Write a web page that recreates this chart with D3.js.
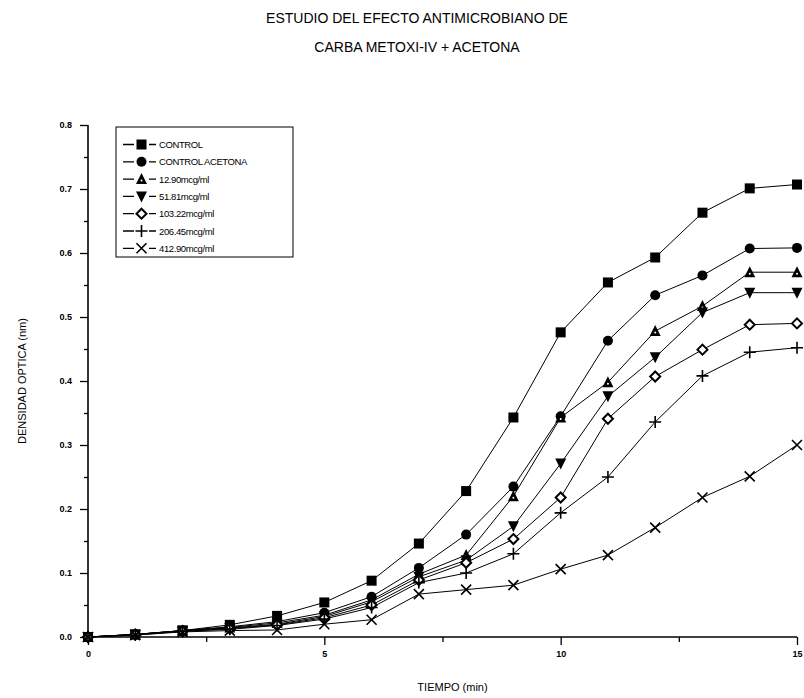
<!DOCTYPE html>
<html>
<head>
<meta charset="utf-8">
<script src="https://cdn.jsdelivr.net/npm/d3@7"></script>
<style>
  body { margin: 0; background: #fff; }
  text { font-family: "Liberation Sans", Arial, sans-serif; fill: #000; }
</style>
</head>
<body>
<div id="chart"></div>
<script>
const tiempo = [0, 1, 2, 3, 4, 5, 6, 7, 8, 9, 10, 11, 12, 13, 14, 15];

const control         = [0, 0.004, 0.010, 0.019, 0.033, 0.054, 0.088, 0.146, 0.228, 0.343, 0.476, 0.554, 0.593, 0.663, 0.701, 0.707];
const controlAcetona  = [0, 0.004, 0.010, 0.016, 0.024, 0.038, 0.063, 0.108, 0.160, 0.235, 0.345, 0.463, 0.534, 0.565, 0.607, 0.608];
const c1290           = [0, 0.004, 0.010, 0.015, 0.022, 0.034, 0.058, 0.098, 0.128, 0.220, 0.343, 0.398, 0.478, 0.517, 0.570, 0.570];
const c5181           = [0, 0.004, 0.010, 0.014, 0.020, 0.032, 0.055, 0.094, 0.120, 0.173, 0.271, 0.376, 0.437, 0.507, 0.538, 0.538];
const c10322          = [0, 0.004, 0.009, 0.013, 0.019, 0.030, 0.050, 0.089, 0.116, 0.153, 0.218, 0.341, 0.407, 0.449, 0.488, 0.490];
const c20645          = [0, 0.003, 0.009, 0.012, 0.018, 0.028, 0.046, 0.085, 0.100, 0.130, 0.194, 0.250, 0.336, 0.408, 0.445, 0.452];
const c41290          = [0, 0.003, 0.008, 0.010, 0.011, 0.020, 0.027, 0.067, 0.074, 0.081, 0.106, 0.128, 0.171, 0.218, 0.251, 0.300];

const seriesNames = ["CONTROL", "CONTROL ACETONA", "12.90mcg/ml", "51.81mcg/ml", "103.22mcg/ml", "206.45mcg/ml", "412.90mcg/ml"];
const seriesValues = [control, controlAcetona, c1290, c5181, c10322, c20645, c41290];
const markerTypes = ["square", "circle", "triUp", "triDown", "diamond", "plus", "cross"];

const xTicks = [0, 5, 10, 15];
const yTicks = [0, 0.1, 0.2, 0.3, 0.4, 0.5, 0.6, 0.7, 0.8];

const W = 804, H = 698;
const margin = {top: 125, right: 7, bottom: 61, left: 88};
const width = W - margin.left - margin.right,
      height = H - margin.top - margin.bottom;

const svg = d3.select("#chart").append("svg")
    .attr("width", W)
    .attr("height", H);

// title
svg.append("text")
    .attr("x", 417).attr("y", 23)
    .attr("text-anchor", "middle")
    .style("font-size", "14px")
    .text("ESTUDIO DEL EFECTO ANTIMICROBIANO DE");
svg.append("text")
    .attr("x", 417).attr("y", 52)
    .attr("text-anchor", "middle")
    .style("font-size", "14px")
    .text("CARBA METOXI-IV + ACETONA");

const g = svg.append("g")
    .attr("transform", `translate(${margin.left},${margin.top})`);

const x = d3.scaleLinear().domain([0, 15]).range([0, width]);
const y = d3.scaleLinear().domain([0, 0.8]).range([height, 0]);

// axes
const xAxis = g.append("g")
    .attr("transform", `translate(0,${height})`)
    .call(d3.axisBottom(x).tickValues(xTicks).tickSize(8).tickPadding(6).tickFormat(d3.format("d")));
g.append("g")
    .attr("transform", `translate(0,${height})`)
    .call(d3.axisBottom(x).tickValues([2.5, 7.5, 12.5]).tickSize(5).tickFormat(""))
    .select(".domain").remove();

const yAxis = g.append("g")
    .call(d3.axisLeft(y).tickValues(yTicks).tickSize(8).tickPadding(8).tickFormat(d3.format(".1f")));
g.append("g")
    .call(d3.axisLeft(y).tickValues(d3.range(0.05, 0.8, 0.1)).tickSize(4).tickFormat(""))
    .select(".domain").remove();

g.selectAll(".domain").attr("stroke-width", 1.6).attr("d", null);
xAxis.select(".domain").attr("d", `M0,0H${width}`);
yAxis.select(".domain").attr("d", `M0,${height}V0`);
g.selectAll(".tick line").attr("stroke-width", 1.3);
g.selectAll(".tick text").style("font-size", "9px").style("font-weight", "bold");

// axis labels
svg.append("text")
    .attr("x", margin.left + width / 2 + 10).attr("y", 691)
    .attr("text-anchor", "middle")
    .style("font-size", "11px")
    .text("TIEMPO (min)");
svg.append("text")
    .attr("transform", `translate(26,${margin.top + height / 2}) rotate(-90)`)
    .attr("text-anchor", "middle")
    .style("font-size", "11px")
    .text("DENSIDAD OPTICA (nm)");

// markers
function drawMarker(sel, type) {
  const s = 5;
  if (type === "square") {
    sel.append("rect").attr("x", -s).attr("y", -s).attr("width", 2 * s).attr("height", 2 * s).attr("fill", "#000");
  } else if (type === "circle") {
    sel.append("circle").attr("r", s).attr("fill", "#000");
  } else if (type === "triUp") {
    sel.append("path").attr("d", `M0,${-s - 1}L${s + 0.5},${s}L${-s - 0.5},${s}Z`)
      .attr("fill", "#000");
    sel.append("circle").attr("cx", 0).attr("cy", 1.5).attr("r", 1).attr("fill", "#fff");
  } else if (type === "triDown") {
    sel.append("path").attr("d", `M0,${s + 1}L${s + 0.5},${-s}L${-s - 0.5},${-s}Z`).attr("fill", "#000");
  } else if (type === "diamond") {
    sel.append("path").attr("d", `M0,${-s}L${s},0L0,${s}L${-s},0Z`)
      .attr("fill", "#fff").attr("stroke", "#000").attr("stroke-width", 2);
  } else if (type === "plus") {
    sel.append("path").attr("d", `M${-s - 1},0H${s + 1}M0,${-s - 1}V${s + 1}`)
      .attr("stroke", "#000").attr("stroke-width", 1.6);
  } else if (type === "cross") {
    sel.append("path").attr("d", `M${-s},${-s}L${s},${s}M${s},${-s}L${-s},${s}`)
      .attr("stroke", "#000").attr("stroke-width", 1.6);
  }
}

const line = d3.line()
    .x((d, i) => x(tiempo[i]))
    .y(d => y(d));

seriesValues.forEach((vals, k) => {
  g.append("path")
      .datum(vals)
      .attr("fill", "none")
      .attr("stroke", "#000")
      .attr("stroke-width", 1)
      .attr("d", line);
});

seriesValues.forEach((vals, k) => {
  g.selectAll(null)
      .data(vals)
      .join("g")
      .attr("transform", (d, i) => `translate(${x(tiempo[i])},${y(d)})`)
      .each(function() { drawMarker(d3.select(this), markerTypes[k]); });
});

// legend
const legend = svg.append("g").attr("transform", "translate(116,127)");
legend.append("rect")
    .attr("width", 177).attr("height", 130)
    .attr("fill", "#fff").attr("stroke", "#000").attr("stroke-width", 1);

seriesNames.forEach((name, k) => {
  const ly = 17.5 + k * 17.3;
  const row = legend.append("g").attr("transform", `translate(0,${ly})`);
  row.append("path").attr("d", "M7,0H18M33,0H40").attr("stroke", "#000").attr("stroke-width", 1.3);
  const m = row.append("g").attr("transform", "translate(25.5,0)");
  drawMarker(m, markerTypes[k]);
  row.append("text")
      .attr("x", 43).attr("y", 3.5)
      .style("font-size", "9.5px")
      .style("letter-spacing", "-0.4px")
      .text(name);
});
</script>
</body>
</html>
